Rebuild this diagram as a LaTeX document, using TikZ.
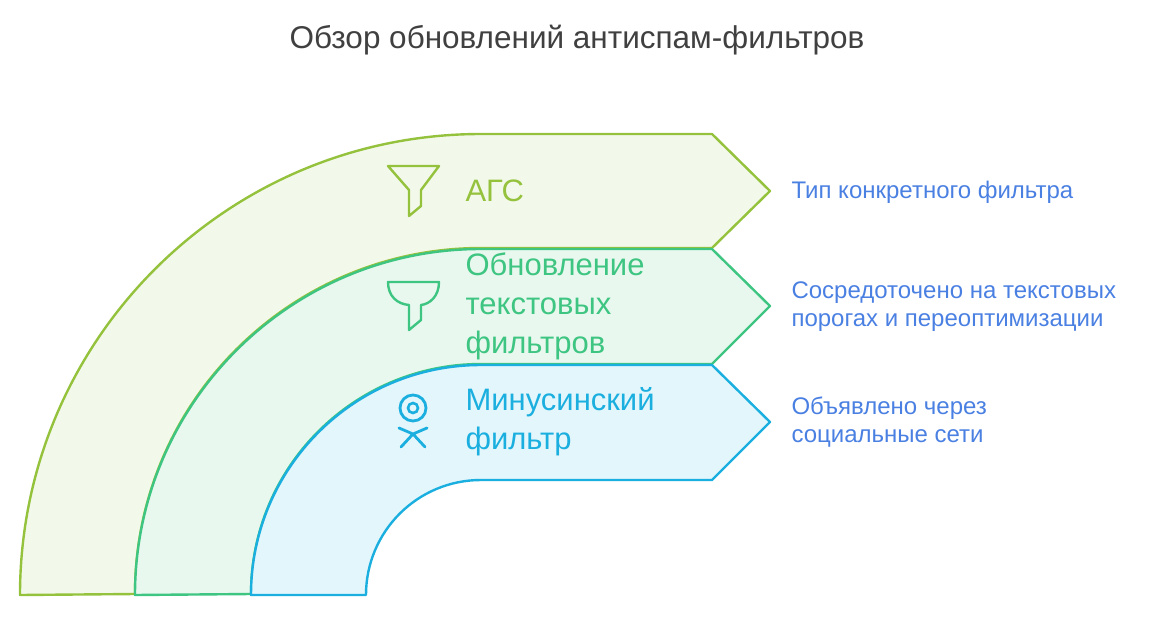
\documentclass[tikz,border=0pt]{standalone}
\usepackage{fontspec}
\setmainfont{Liberation Sans}
\begin{document}
\begin{tikzpicture}[x=1pt,y=-1pt,
 band/.style={line width=2.4pt,line join=round},
 lab/.style={anchor=west,align=left,font=\fontsize{31}{39}\selectfont},
 side/.style={anchor=west,align=left,text=sidec,font=\fontsize{24}{28}\selectfont}]
\definecolor{ga}{HTML}{95C23D}\definecolor{gaf}{HTML}{F3F9EA}
\definecolor{gb}{HTML}{3EC581}\definecolor{gbf}{HTML}{E8F8EF}
\definecolor{gc}{HTML}{1BAFDF}\definecolor{gcf}{HTML}{E3F6FC}
\definecolor{sidec}{HTML}{4A80E2}\definecolor{tc}{HTML}{404040}
\useasboundingbox (0,0) rectangle (1154,616);
\node[text=tc,font=\fontsize{31.5}{36}\selectfont] (title) at (577,40) {Обзор обновлений антиспам-фильтров};
\draw[band,draw=ga,fill=gaf] (20,595) arc[start angle=180,end angle=270,radius=461] -- (712,134) -- (770,191) -- (712,248) -- (481,248) arc[start angle=270,end angle=180,radius=346] -- cycle;
\draw[band,draw=gb,fill=gbf] (135,595) arc[start angle=180,end angle=270,radius=346] -- (712,249) -- (770,306) -- (712,364) -- (481,364) arc[start angle=270,end angle=180,radius=230] -- cycle;
\draw[band,draw=gc,fill=gcf] (251,595) arc[start angle=180,end angle=270,radius=230] -- (712,365) -- (770,422) -- (712,480) -- (481,480) arc[start angle=270,end angle=180,radius=115] -- cycle;
% icons
\draw[ga,line width=2.4pt,line join=round] (388,166) -- (439,166) -- (421,190) -- (421,206) -- (409,216) -- (409,190) -- cycle;
\draw[gb,line width=2.4pt,line join=round] (388,282) -- (439,282) .. controls (439,296) and (430,304) .. (421,305) -- (421,320) -- (409,330) -- (409,305) .. controls (397,304) and (388,296) .. (388,282) -- cycle;
\draw[gc,line width=2.8pt] (413,408) circle[radius=13];
\draw[gc,line width=2.6pt] (413,408) circle[radius=5];
\draw[gc,line width=2.8pt,line cap=round,line join=round] (399,428) -- (413,434) -- (427,428) (413,434) -- (401,447) (413,434) -- (425,447);
% labels
\node[lab,text=ga] (a) at (462,191) {АГС};
\node[lab,text=gb] (b) at (462,306) {Обновление\\текстовых\\фильтров};
\node[lab,text=gc] (c) at (462,422) {Минусинский\\фильтр};
\node[side] (sa) at (788,192) {Тип конкретного фильтра};
\node[side] (sb) at (788,307) {Сосредоточено на текстовых\\порогах и переоптимизации};
\node[side] (sc) at (788,422) {Объявлено через\\социальные сети};
\end{tikzpicture}
\end{document}
